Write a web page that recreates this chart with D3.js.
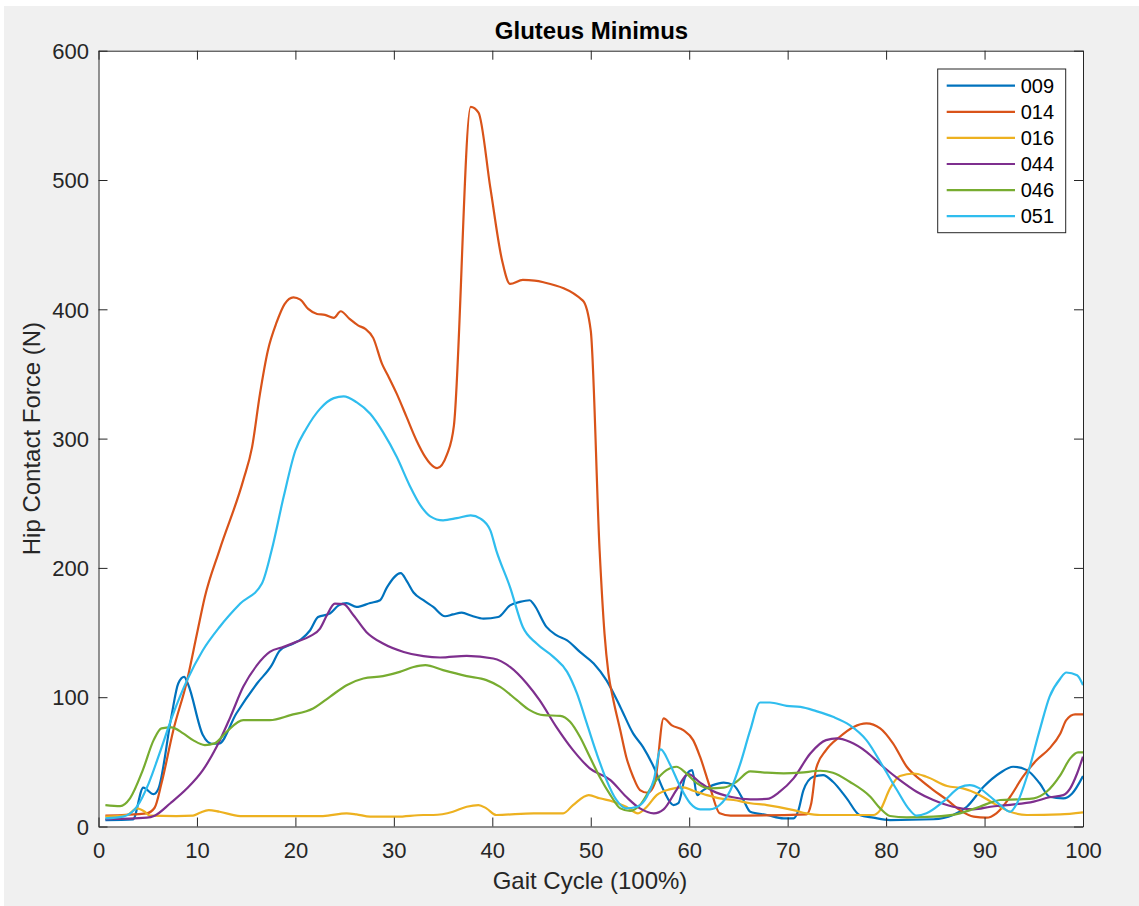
<!DOCTYPE html>
<html>
<head>
<meta charset="utf-8">
<script src="https://cdn.jsdelivr.net/npm/d3@7"></script>
<style>
  html, body { margin: 0; padding: 0; background: #fff; }
  svg { display: block; font-family: "Liberation Sans", Arial, Helvetica, sans-serif; }
</style>
</head>
<body>
<div id="chart"></div>
<script>
// Gluteus Minimus — hip contact force over the gait cycle, one line per subject

const subjects = ["009", "014", "016", "044", "046", "051"];
const colors = ["#0072BD", "#D95319", "#EDB120", "#7E2F8E", "#77AC30", "#2FBDEE"];

const xTicks = [0, 10, 20, 30, 40, 50, 60, 70, 80, 90, 100];
const yTicks = [0, 100, 200, 300, 400, 500, 600];

// [gait %, force N]
const s009 = [[0.7,5],[3.5,5.5],[4.55,30],[5.6,25],[6.1,29.5],[7.4,85],[8.1,110.6],[8.7,115.7],[9.1,110],[10.6,70.7],[11.5,64],[12.2,64],[14,87.4],[16.1,110.6],[17.6,124.8],[18.4,136],[19.8,141.5],[20.6,145],[21.5,151.8],[22.3,162],[23.5,164.7],[24.4,171],[25.2,172.7],[26.2,169.8],[27.6,172.9],[28.6,175],[29.3,185],[30.7,196],[31.3,190],[32,181],[33,175],[34,169.8],[35.2,162.6],[36,164],[36.9,165.4],[37.9,163],[39.1,160.8],[40.6,162],[41.8,171],[42.8,173.7],[43.8,175],[44.2,172],[45.5,154.4],[46.5,148],[47.6,144],[48.9,135],[50.3,126],[51.6,113],[53,92.5],[54.3,72],[55.3,61.6],[56.4,46],[57.4,28],[58.4,16.6],[58.9,18],[59.6,38.5],[60.3,43.6],[60.8,24.3],[61.4,28],[62.4,32],[63.5,34],[64.5,32],[65.5,20.5],[66.2,11.4],[67.9,8.9],[69.6,6.3],[70.6,6.3],[71.1,12.7],[71.6,28],[72.6,38.5],[73.6,39.8],[74.6,34.6],[76,21.8],[77.3,8.9],[78.7,6.8],[80.4,5],[84.8,5.6],[86.8,8.9],[88.2,15.3],[89.9,30.7],[91.6,41.6],[92.9,46.2],[94.3,43.6],[95.6,33.4],[96.6,23],[98,21.8],[98.9,25.6],[100,39]];
const s014 = [[0.7,8.4],[4.9,10.2],[5.7,14.5],[6.4,33.4],[7.6,74.5],[9,113],[10,149],[10.8,177.5],[12.3,214],[14.7,267.7],[15.6,293.4],[16.4,334.6],[17.2,368],[18.1,390],[18.9,404],[19.8,409.3],[20.5,407.5],[21.3,400.3],[22.2,396.4],[23,395.7],[23.9,393.4],[24.6,398.5],[25.5,392.6],[26.4,387.4],[27.1,384.9],[27.9,377.9],[28.8,357.8],[29.4,348.8],[30.3,334.6],[31.3,316.6],[32.3,298.6],[33.2,285.7],[33.7,280.6],[34.4,277.2],[35.4,287.8],[36.1,310],[37.8,556.6],[38.6,552.2],[39.8,494],[41,437.6],[41.8,419.6],[43.1,422.7],[44.3,422.2],[45.2,420.9],[49.2,406.7],[50,383.5],[50.9,213.6],[51.4,149],[51.8,118.3],[52.3,97.7],[53,74.5],[53.6,54],[54.3,38.5],[55,28.2],[55.8,26.1],[56.5,33.4],[57.4,83.6],[58.2,78.4],[59.4,74.5],[60.4,66.8],[61.1,54],[62.1,30.7],[63.1,10.2],[64.2,8.4],[71.9,9.4],[72.4,18],[72.9,45],[73.9,59],[75.3,69.4],[76.7,77],[78,79.7],[79.4,75.9],[80.7,64.3],[82.1,46.2],[83.5,36],[84.8,28.2],[86.2,20.5],[87.5,12.7],[88.9,7.6],[90.2,6.8],[91.2,10.2],[92.6,23],[93.9,38.5],[95.3,51.4],[96.6,60.4],[97.7,72],[98.3,82.3],[99.2,86.7],[100,86.7]];
const s016 = [[0.7,7.6],[2.9,8.9],[3.9,14],[4.7,11.4],[5.2,8.4],[7.9,8.1],[9.6,8.4],[10.3,10.7],[11.2,12.7],[12.3,11.4],[14.4,8.1],[22.8,8.1],[25.2,10.2],[26.2,9.4],[27.6,7.6],[30.3,7.6],[33,8.9],[34,8.9],[36,11.4],[37.4,15.3],[38.6,16.6],[39.4,14],[40.4,8.9],[44.2,10.2],[47.2,10.2],[48.2,16.6],[49.8,24.3],[50.9,21.8],[52.3,19.2],[53.6,15.3],[54.8,10.2],[55.7,15.3],[56.7,24.3],[58,28.7],[59.4,30.3],[60.4,27.7],[61.8,24.3],[63.1,21.8],[64.5,20.5],[66.2,18],[67.9,16.6],[70.6,12.7],[71.9,10.2],[73.3,8.9],[78.7,8.9],[79.4,12.7],[80.4,29.5],[81.4,39],[82.8,41],[84.1,38.5],[86.2,31.3],[87.8,29.5],[89.2,25.6],[90.9,18],[92.6,11.4],[94.3,8.9],[97.7,9.4],[100,11]];
const s044 = [[0.7,5.6],[4.9,6.8],[5.7,8.4],[7.3,18],[9,29.5],[10.6,43.6],[12,61.6],[13.4,84.8],[14.7,108],[16.1,124.8],[17.4,135],[18.8,138.9],[20.1,142.8],[21.5,147.2],[22.5,153.1],[23.2,163.4],[24,172.4],[24.9,172],[25.9,163.4],[27.2,150.5],[28.9,141.5],[31,135],[33,131.7],[34.7,130.7],[37.4,132],[40.1,129.9],[41.8,123.4],[43.5,110.6],[44.8,97.7],[46.5,77.1],[48.2,59.1],[49.9,45],[52,35.9],[53.6,23],[55,14],[56.4,10.2],[57.4,13.3],[58.7,28.2],[59.9,40.6],[61.1,34],[62.4,27.5],[64.3,22.8],[66.2,21],[67.9,21.3],[69.2,26.9],[70.6,37.2],[72.3,56.5],[73.9,66.8],[75,68.1],[76.3,65.5],[78,57.8],[79.7,46.2],[81.4,35.9],[83.1,26.9],[84.8,20.5],[86.8,15.3],[88.9,13.3],[90.6,15.3],[92.3,16.6],[95,19.2],[96.6,22.6],[98,24.3],[98.7,29.5],[99.4,41],[100,54]];
const s046 = [[0.7,16.6],[2.2,15.8],[3.2,21.8],[4.5,43.6],[5.6,66.8],[6.4,75.9],[7.4,76.6],[8.6,72],[9.6,66.8],[10.8,63],[11.8,64.3],[13,73.2],[14.7,82.3],[17.4,82.3],[19.5,86.1],[21.8,91.3],[23.5,100.3],[25.2,109.3],[26.9,114.5],[28.9,116.3],[30.6,119.6],[32,123.4],[33.2,124.8],[35,120.9],[37.4,116.3],[39.4,113.2],[40.8,108],[42.5,97.7],[43.8,90],[45.2,86.1],[46.9,85.6],[47.9,81],[48.9,69.4],[49.9,53.9],[50.9,38.5],[52,24.3],[53,14],[54,12],[55,16.6],[56.4,33.4],[57.7,43.6],[58.7,46.2],[59.7,41.1],[60.8,33.4],[62.1,29.5],[63.5,30],[64.8,34.6],[66.2,42.6],[67.9,41.6],[69.6,41.1],[71.3,41.6],[73.3,43.1],[74.6,41.6],[76.3,34.6],[78.4,23],[79.4,14],[80.4,8.1],[82.1,7.1],[84.8,7.6],[87.5,10.2],[89.5,15.3],[91.6,20.5],[93.6,21],[95,21.8],[96.3,26.9],[97.7,39.8],[98.7,52.7],[99.5,57.3],[100,57.3]];
const s051 = [[0.7,6.3],[2.5,7.6],[3.9,15.3],[5.1,33.4],[6.2,56.5],[7.6,87.4],[9,113.2],[10.6,136.3],[12.3,154.3],[14.4,172.4],[16.6,187.9],[17.6,214],[18.8,254.8],[20,290.8],[21.1,307.6],[22.5,323],[23.9,331.3],[24.9,332.6],[26.2,328.2],[27.6,319.2],[28.9,305],[30.3,285.7],[31.6,263.8],[32.7,248.4],[33.7,239.9],[35,236.8],[36.4,238.5],[37.8,240.6],[38.8,238.1],[39.8,229],[40.4,213.6],[41.8,185.2],[43.1,154.3],[44.5,141.5],[46.2,131.2],[47.6,119.6],[48.6,102.9],[49.6,79.7],[50.6,56.5],[51.6,35.9],[52.6,20.5],[53.6,14],[54.7,15.3],[55.7,23],[56.4,35.9],[57.1,59.6],[58,48.8],[59.1,30.7],[60.1,18],[61.1,13.3],[62.1,13.3],[63.1,16.6],[64.2,28.2],[65.2,48.8],[66.2,74.5],[67.2,95.9],[68.2,95.9],[69.9,93.3],[71.3,92.5],[72.9,89.2],[74.6,84.8],[76.3,78.4],[78,66.8],[79.7,46.2],[81.1,28.2],[82.4,12.7],[83.1,8.4],[84.1,10.2],[85.8,19.2],[87.5,30.3],[88.5,32],[89.5,29.5],[90.6,23],[91.6,16.6],[92.6,11.4],[93.3,18],[94.3,38.5],[95.6,74.5],[96.6,100.3],[97.7,114.5],[98.3,119.1],[99.4,117],[100,109.3]];

const seriesData = [s009, s014, s016, s044, s046, s051];

const W = 1139, H = 906;
const plot = { left: 98.5, top: 50.7, right: 1083, bottom: 826.5 };

const svg = d3.select("#chart").append("svg").attr("width", W).attr("height", H);

// MATLAB-style grey figure, thin white strip at top/left as in the screenshot
svg.append("rect").attr("x", 4).attr("y", 6).attr("width", W - 4).attr("height", H - 6).attr("fill", "#f0f0f0");

const x = d3.scaleLinear().domain([0, 100]).range([plot.left, plot.right]);
const y = d3.scaleLinear().domain([0, 600]).range([plot.bottom, plot.top]);

svg.append("rect")
  .attr("x", plot.left).attr("y", plot.top)
  .attr("width", plot.right - plot.left).attr("height", plot.bottom - plot.top)
  .attr("fill", "#fff");

svg.append("defs").append("clipPath").attr("id", "clip")
  .append("rect")
  .attr("x", plot.left).attr("y", plot.top)
  .attr("width", plot.right - plot.left).attr("height", plot.bottom - plot.top);

// lines
const line = d3.line().x(d => x(d[0])).y(d => y(d[1])).curve(d3.curveMonotoneX);
svg.append("g").attr("clip-path", "url(#clip)")
  .selectAll("path").data(seriesData).join("path")
  .attr("d", line)
  .attr("fill", "none")
  .attr("stroke", (d, i) => colors[i])
  .attr("stroke-width", 2.2)
  .attr("stroke-linejoin", "round");

// axes: inward ticks on all four sides (box on)
const axisColor = "#262626";
const tickLen = 9;
const fmt = d3.format("d");

const bottomAxis = svg.append("g").attr("transform", `translate(0,${plot.bottom})`)
  .call(d3.axisBottom(x).tickValues(xTicks).tickFormat(fmt).tickSizeInner(-tickLen).tickSizeOuter(0).tickPadding(0));
const topAxis = svg.append("g").attr("transform", `translate(0,${plot.top})`)
  .call(d3.axisTop(x).tickValues(xTicks).tickFormat("").tickSizeInner(-tickLen).tickSizeOuter(0));
const leftAxis = svg.append("g").attr("transform", `translate(${plot.left},0)`)
  .call(d3.axisLeft(y).tickValues(yTicks).tickFormat(fmt).tickSizeInner(-tickLen).tickSizeOuter(0).tickPadding(0));
const rightAxis = svg.append("g").attr("transform", `translate(${plot.right},0)`)
  .call(d3.axisRight(y).tickValues(yTicks).tickFormat("").tickSizeInner(-tickLen).tickSizeOuter(0));

[bottomAxis, topAxis, leftAxis, rightAxis].forEach(a => {
  a.select(".domain").attr("stroke", axisColor).attr("stroke-width", 1);
  a.selectAll(".tick line").attr("stroke", axisColor).attr("stroke-width", 1);
  a.selectAll(".tick text").attr("fill", "#262626").style("font-size", "22px")
    .style("font-family", '"Liberation Sans", Arial, Helvetica, sans-serif');
});
bottomAxis.selectAll(".tick text").attr("y", 31.8).attr("dy", null);
leftAxis.selectAll(".tick text").attr("x", -9.5).attr("dy", "0.35em");

// titles
svg.append("text").attr("x", 591.5).attr("y", 39.3).attr("text-anchor", "middle")
  .style("font-size", "24px").style("font-weight", "bold").attr("fill", "#000")
  .text("Gluteus Minimus");
svg.append("text").attr("x", 590).attr("y", 889.3).attr("text-anchor", "middle")
  .style("font-size", "24px").attr("fill", "#262626")
  .text("Gait Cycle (100%)");
svg.append("text").attr("transform", `translate(39.5,${(plot.top + plot.bottom) / 2}) rotate(-90)`)
  .attr("text-anchor", "middle").style("font-size", "24px").attr("fill", "#262626")
  .text("Hip Contact Force (N)");

// legend
const lg = svg.append("g");
lg.append("rect").attr("x", 937.7).attr("y", 69).attr("width", 128).attr("height", 163.7)
  .attr("fill", "#fff").attr("stroke", axisColor).attr("stroke-width", 1);
const rows = lg.selectAll("g.row").data(subjects).join("g").attr("class", "row")
  .attr("transform", (d, i) => `translate(0,${85.7 + i * 26.1})`);
rows.append("line").attr("x1", 946.7).attr("x2", 1015).attr("y1", 0).attr("y2", 0)
  .attr("stroke", (d, i) => colors[i]).attr("stroke-width", 2.2);
rows.append("text").attr("x", 1020.7).attr("y", 0).attr("dy", "0.35em")
  .style("font-size", "20px").attr("fill", "#000").text(d => d);
</script>
</body>
</html>
